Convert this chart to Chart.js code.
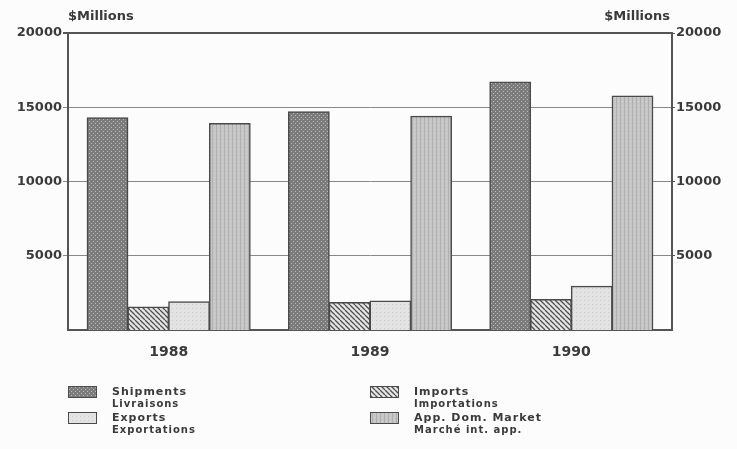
<!DOCTYPE html>
<html>
<head>
<meta charset="utf-8">
<script src="https://cdn.jsdelivr.net/npm/chart.js@4"></script>
<style>
  html, body { margin: 0; padding: 0; background: #fcfcfc; }
  #wrap { width: 737px; height: 449px; }
</style>
</head>
<body>
<div id="wrap"><canvas id="chart" width="737" height="449"></canvas></div>
<script>
// values ($ millions)
var years = ["1988", "1989", "1990"];
var shipments = [14300, 14700, 16700];
var imports = [1550, 1850, 2050];
var exportsV = [1900, 1950, 2950];
var appDomMarket = [13900, 14400, 15750];
var yTicks = [5000, 10000, 15000, 20000];
var legendEn = ["Shipments", "Imports", "Exports", "App. Dom. Market"];
var legendFr = ["Livraisons", "Importations", "Exportations", "Marché int. app."];

var ink = "#3a3a3a";
var font = "DejaVu Sans";

function makePattern(kind) {
  var c = document.createElement("canvas");
  var s = kind == "hatch" ? 5 : 4;
  c.width = s; c.height = s;
  var p = c.getContext("2d");
  if (kind == "stipple") {
    p.fillStyle = "#7c7c7c"; p.fillRect(0, 0, s, s);
    p.fillStyle = "#b8b8b8"; p.fillRect(1, 1, 1, 1); p.fillRect(3, 3, 1, 1);
  } else if (kind == "hatch") {
    p.fillStyle = "#e6e6e6"; p.fillRect(0, 0, s, s);
    p.strokeStyle = "#505050"; p.lineWidth = 1.3;
    [-s, 0, s].forEach(function (x0) {
      p.beginPath(); p.moveTo(x0, 0); p.lineTo(x0 + s, s); p.stroke();
    });
  } else if (kind == "light") {
    p.fillStyle = "#e3e3e3"; p.fillRect(0, 0, s, s);
    p.fillStyle = "#cdcdcd"; p.fillRect(0, 0, 1, 1);
  } else {
    p.fillStyle = "#c6c6c6"; p.fillRect(0, 0, s, s);
    p.fillStyle = "#b0b0b0"; p.fillRect(0, 0, 1, s);
    p.fillStyle = "#d4d4d4"; p.fillRect(2, 1, 1, 1);
  }
  return p.createPattern(c, "repeat");
}

var fills = [makePattern("stipple"), makePattern("hatch"), makePattern("light"), makePattern("vert")];
var series = [shipments, imports, exportsV, appDomMarket];

var datasets = series.map(function (vals, i) {
  return {
    label: legendEn[i] + " / " + legendFr[i],
    data: vals,
    backgroundColor: fills[i],
    borderColor: "#4a4a4a",
    borderWidth: 1.5,
    borderSkipped: "bottom",
    categoryPercentage: 0.81,
    barPercentage: 1.0,
    inflateAmount: 0.5
  };
});

// "$Millions" headers and the two-line bilingual legend
var extras = {
  id: "extras",
  afterDraw: function (chart) {
    var ctx = chart.ctx;
    var a = chart.chartArea;
    ctx.save();
    ctx.fillStyle = ink;
    ctx.font = "bold 13px '" + font + "'";
    ctx.textBaseline = "middle";
    ctx.textAlign = "left";
    ctx.fillText("$Millions", a.left, 17);
    ctx.textAlign = "right";
    ctx.fillText("$Millions", a.right - 2, 17);

    var cols = [a.left, 370];
    var rows = [392, 418];
    ctx.textAlign = "left";
    for (var i = 0; i < 4; i++) {
      var x = cols[i % 2];
      var y = rows[Math.floor(i / 2)];
      ctx.fillStyle = fills[i];
      ctx.fillRect(x, y - 6, 29, 12);
      ctx.strokeStyle = "#4a4a4a";
      ctx.lineWidth = 1;
      ctx.strokeRect(x + 0.5, y - 5.5, 28, 11);
      ctx.fillStyle = ink;
      ctx.font = "bold 11px '" + font + "'";
      ctx.letterSpacing = "1px";
      ctx.fillText(legendEn[i], x + 44, y);
      ctx.font = "bold 10px '" + font + "'";
      ctx.fillText(legendFr[i], x + 44, y + 12);
    }
    ctx.restore();
  }
};

var tickFont = { family: font, size: 13, weight: "bold" };
function plain(v) { return String(v); }

new Chart(document.getElementById("chart"), {
  type: "bar",
  data: { labels: years, datasets: datasets },
  options: {
    responsive: false,
    animation: false,
    layout: { padding: { top: 33, right: 0, bottom: 0, left: 0 } },
    plugins: { legend: { display: false }, tooltip: { enabled: false } },
    scales: {
      x: {
        grid: { display: false },
        border: { display: true, color: "#555", width: 2 },
        ticks: { color: ink, font: { family: font, size: 14, weight: "bold" }, padding: 6 },
        afterFit: function (s) { s.height = 119; }
      },
      y: {
        position: "left",
        min: 0, max: 20000,
        afterBuildTicks: function (s) { s.ticks = yTicks.map(function (v) { return { value: v }; }); },
        grid: {
          color: function (c) { return c.tick && c.tick.value == 20000 ? "#555" : "#888"; },
          lineWidth: function (c) { return c.tick && c.tick.value == 20000 ? 2 : 1; },
          tickLength: 5
        },
        border: { display: true, color: "#555", width: 2 },
        ticks: { color: ink, font: tickFont, padding: 1, callback: plain },
        afterFit: function (s) { s.width = 68; }
      },
      y2: {
        position: "right",
        display: true,
        min: 0, max: 20000,
        afterBuildTicks: function (s) { s.ticks = yTicks.map(function (v) { return { value: v }; }); },
        grid: { drawOnChartArea: false, tickLength: 3, color: "#555" },
        border: { display: true, color: "#555", width: 2 },
        ticks: { color: ink, font: tickFont, padding: 1, callback: plain },
        afterFit: function (s) { s.width = 65; }
      }
    }
  },
  plugins: [extras]
});
</script>
</body>
</html>
